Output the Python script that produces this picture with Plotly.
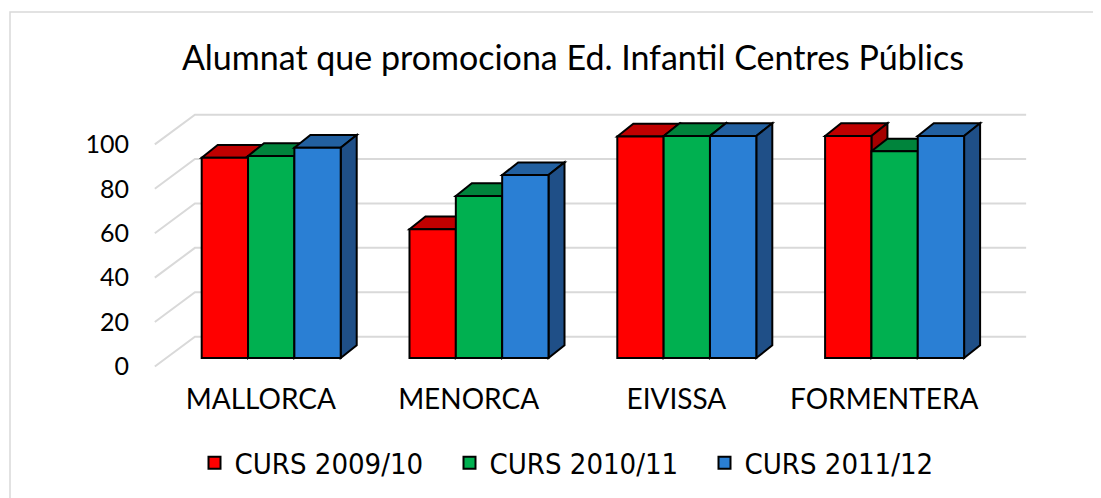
import plotly.graph_objects as go

categories = ["MALLORCA", "MENORCA", "EIVISSA", "FORMENTERA"]
series = ["CURS 2009/10", "CURS 2010/11", "CURS 2011/12"]
curs_2009_10 = [90.2, 58.0, 99.8, 100.0]
curs_2010_11 = [91.0, 73.0, 100.0, 93.1]
curs_2011_12 = [94.7, 82.4, 100.0, 100.0]
y_ticks = [0, 20, 40, 60, 80, 100]

values = [curs_2009_10, curs_2010_11, curs_2011_12]
front_col = ["#FF0000", "#00B050", "#2A7FD4"]
top_col = ["#C00000", "#00843C", "#2260A0"]
side_col = ["#A50000", "#006F33", "#1F4F87"]

bargap = 0.331
n = len(series)
bw = (1 - bargap) / n
# fake 3d depth of the boxes (x units, y units)
dx, dy = 0.077, 5.7

x = list(range(len(categories)))

fig = go.Figure()
for s in range(n):
    fig.add_trace(go.Bar(
        x=x, y=values[s], name=series[s],
        marker=dict(color=front_col[s], line=dict(color="black", width=2)),
    ))

shapes = []
# back wall + floor diagonals
for v in y_ticks:
    shapes.append(dict(
        type="path", xref="x", yref="y", layer="below",
        path=f"M -0.56,{v - 3.8} L -0.367,{v + 9.6} L 3.633,{v + 9.6}",
        line=dict(color="#D9D9D9", width=2),
    ))

# top and side faces of the boxes
for i in x:
    for s in range(n):
        x0 = i - (1 - bargap) / 2 + s * bw
        x1 = x0 + bw
        v = values[s][i]
        shapes.append(dict(
            type="path", xref="x", yref="y", layer="below",
            path=f"M {x0},{v} L {x0 + dx},{v + dy} L {x1 + dx},{v + dy} L {x1},{v} Z",
            fillcolor=top_col[s], line=dict(color="black", width=2),
        ))
        shapes.append(dict(
            type="path", xref="x", yref="y", layer="below",
            path=f"M {x1},0 L {x1 + dx},{dy} L {x1 + dx},{v + dy} L {x1},{v} Z",
            fillcolor=side_col[s], line=dict(color="black", width=2),
        ))

# chart border
shapes.append(dict(
    type="rect", xref="paper", yref="paper",
    x0=-0.15, x1=1.08, y0=-0.48, y1=1.314,
    line=dict(color="#D9D9D9", width=1.5),
))

fig.update_layout(
    width=1101, height=498,
    margin=dict(l=137, r=64, t=92, b=126, autoexpand=False),
    paper_bgcolor="white", plot_bgcolor="white",
    barmode="group", bargap=bargap, bargroupgap=0,
    shapes=shapes,
    title=dict(
        text="Alumnat que promociona Ed. Infantil Centres Públics",
        x=0.5131, xanchor="center", y=0.8996, yanchor="middle", yref="container",
        font=dict(family="Lato", size=34, color="black"),
    ),
    xaxis=dict(
        range=[-0.6073, 3.7238], automargin=False,
        tickvals=[i - 0.05 for i in x], ticktext=categories,
        showgrid=False, zeroline=False, showline=False, ticks="",
        tickfont=dict(family="Lato", size=28, color="black"),
    ),
    yaxis=dict(
        range=[-9.91, 116.2], automargin=False,
        tickvals=[v - 3.8 for v in y_ticks], ticktext=[str(v) for v in y_ticks],
        showgrid=False, zeroline=False, showline=False, ticks="",
        ticklabelstandoff=15,
        tickfont=dict(family="Lato", size=25, color="black"),
    ),
    legend=dict(
        orientation="h", x=0.48, xanchor="center", y=-0.296, yanchor="middle",
        entrywidth=210, entrywidthmode="pixels",
        font=dict(family="Liberation Sans Narrow, DejaVu Sans Condensed, sans-serif", size=29, color="black"),
    ),
)

fig.write_html("out.html")
